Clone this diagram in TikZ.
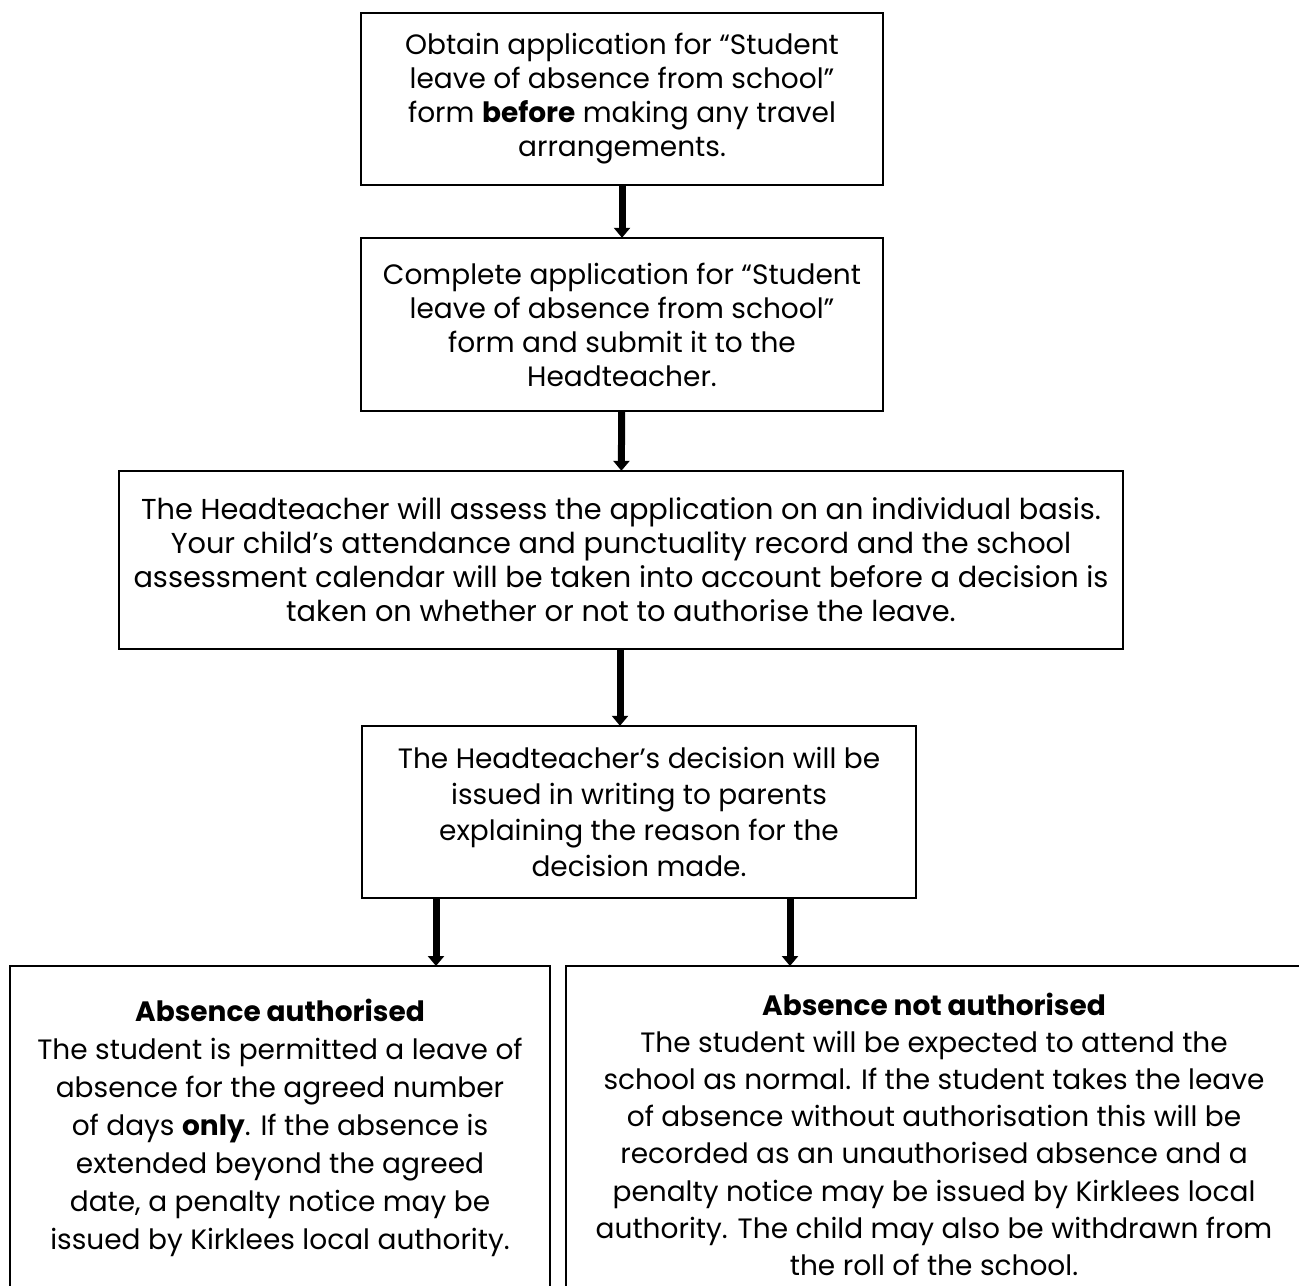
\documentclass[tikz,border=0pt]{standalone}
\usepackage{fontspec}
\setmainfont{Poppins}
\usetikzlibrary{arrows.meta}
\begin{document}
\begin{tikzpicture}[x=0.5pt,y=-0.5pt,
  box/.style={draw=black, line width=1.2pt, inner sep=0pt, align=center, font=\fontsize{14pt}{17pt}\selectfont},
  arr/.style={line width=3.5pt, -{Triangle[width=8pt,length=5pt]}, shorten >=-0.5pt}]
\useasboundingbox (0,0) rectangle (1299,1285);
\node[box, minimum width=261pt, minimum height=86pt] (b1) at (622,99)
 {Obtain application for “Student\\ leave of absence from school”\\ form \textbf{before} making any travel\\ arrangements.};
\node[box, minimum width=261pt, minimum height=86.5pt] (b2) at (622,324.5)
 {Complete application for “Student\\ leave of absence from school”\\ form and submit it to the\\ Headteacher.};
\node[box, minimum width=502pt, minimum height=89pt, font=\fontsize{14.4pt}{17pt}\selectfont] (b3) at (621,560)
 {The Headteacher will assess the application on an individual basis.\\ Your child’s attendance and punctuality record and the school\\ assessment calendar will be taken into account before a decision is\\ taken on whether or not to authorise the leave.};
\node[box, minimum width=277pt, minimum height=86pt, font=\fontsize{14pt}{18pt}\selectfont] (b4) at (639,812)
 {The Headteacher’s decision will be\\ issued in writing to parents\\ explaining the reason for the\\ decision made.};
\node[box, anchor=north, minimum width=270pt, minimum height=162pt, font=\fontsize{14pt}{19pt}\selectfont] (bl) at (280,965)
 {\textbf{Absence authorised}\\ The student is permitted a leave of\\ absence for the agreed number\\ of days \textbf{only}. If the absence is\\ extended beyond the agreed\\ date, a penalty notice may be\\ issued by Kirklees local authority.};
\node[box, anchor=north, minimum width=368pt, minimum height=168pt, font=\fontsize{14pt}{18.6pt}\selectfont] (br) at (934,965)
 {\textbf{Absence not authorised}\\ The student will be expected to attend the\\ school as normal. If the student takes the leave\\ of absence without authorisation this will be\\ recorded as an unauthorised absence and a\\ penalty notice may be issued by Kirklees local\\ authority. The child may also be withdrawn from\\ the roll of the school.};
\draw[arr] (b1) -- (b2);
\draw[arr] (b2) -- (b3);
\draw[arr] ([xshift=-0.5pt]b3.south) -- ([xshift=-0.5pt]b3.south |- b4.north);
\draw[arr] ([xshift=-101.5pt]b4.south) -- ([xshift=-101.5pt]b4.south |- bl.north);
\draw[arr] ([xshift=75.5pt]b4.south) -- ([xshift=75.5pt]b4.south |- br.north);
\end{tikzpicture}
\end{document}
